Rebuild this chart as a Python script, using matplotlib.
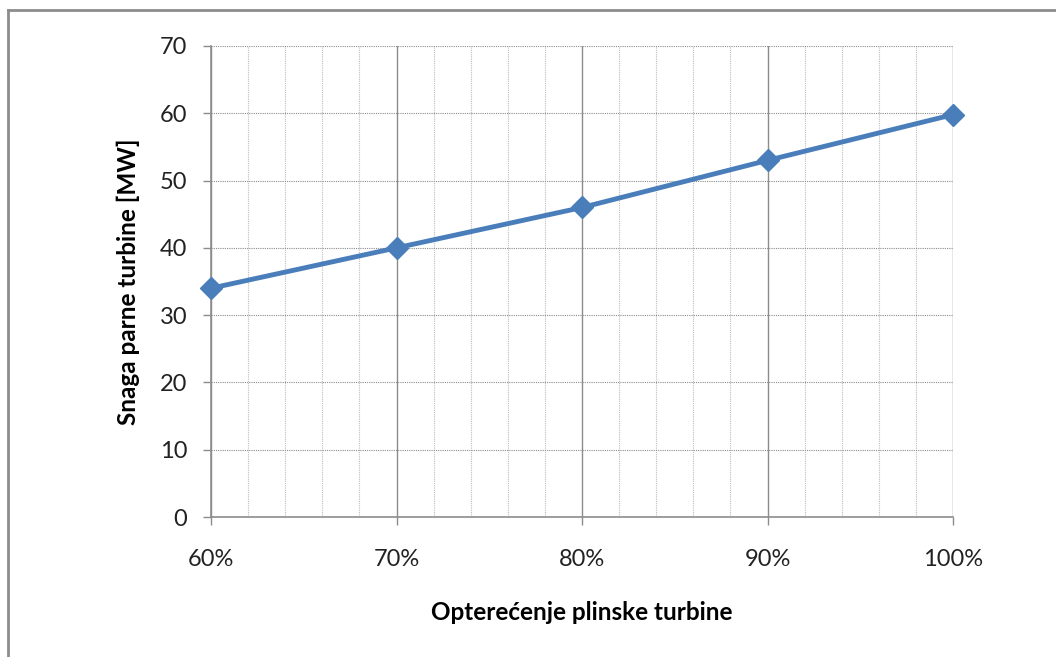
import numpy as np
import matplotlib
matplotlib.use("Agg")
import matplotlib.pyplot as plt
from matplotlib.lines import Line2D
from matplotlib.ticker import MultipleLocator, FuncFormatter

# data
load_pct = [60, 70, 80, 90, 100]
power_mw = [34.0, 40.0, 46.0, 53.0, 59.8]
y_ticks = [0, 10, 20, 30, 40, 50, 60, 70]

plt.rcParams["font.family"] = ["Lato", "DejaVu Sans"]

fig = plt.figure(figsize=(10.56, 6.57), dpi=100)
ax = fig.add_axes([211 / 1056, 1 - 517 / 657, 742 / 1056, 471 / 657])

# outer frame (only top and left edge visible)
fig.add_artist(Line2D([8 / 1056, 1.0], [1 - 10 / 657, 1 - 10 / 657],
                      transform=fig.transFigure, color="#8c8c8c", lw=2))
fig.add_artist(Line2D([8 / 1056, 8 / 1056], [0.0, 1 - 10 / 657],
                      transform=fig.transFigure, color="#8c8c8c", lw=2))

ax.set_xlim(60, 100)
ax.set_ylim(0, 70)
ax.set_yticks(y_ticks)
ax.xaxis.set_major_locator(MultipleLocator(10))
ax.xaxis.set_minor_locator(MultipleLocator(2))
ax.xaxis.set_major_formatter(FuncFormatter(lambda v, p: "%d%%" % v))

ax.grid(axis="x", which="major", color="#8c8c8c", lw=1, ls="-")
ax.grid(axis="x", which="minor", color="#bdbdbd", lw=0.8, ls=(0, (1, 1)))
ax.grid(axis="y", which="major", color="#8c8c8c", lw=0.8, ls=(0, (1, 1)))
ax.set_axisbelow(True)

for s in ["top", "right"]:
    ax.spines[s].set_visible(False)
for s in ["left", "bottom"]:
    ax.spines[s].set_color("#8c8c8c")
    ax.spines[s].set_linewidth(1.2)

ax.tick_params(axis="both", which="major", color="#8c8c8c", length=6,
               width=1, labelsize=17, labelcolor="#222222")
ax.tick_params(axis="x", which="minor", length=0)
ax.tick_params(axis="x", pad=17)
ax.tick_params(axis="y", pad=11)

ax.plot(load_pct, power_mw, color="#4a7ebb", lw=3.5, marker="D",
        markersize=11, clip_on=False, zorder=5)

ax.set_xlabel("Opterećenje plinske turbine", fontsize=17.5, fontweight="bold",
              labelpad=22)
ax.set_ylabel("Snaga parne turbine [MW]", fontsize=17.5, fontweight="bold",
              labelpad=14)

fig.savefig("out.png", dpi=100)
